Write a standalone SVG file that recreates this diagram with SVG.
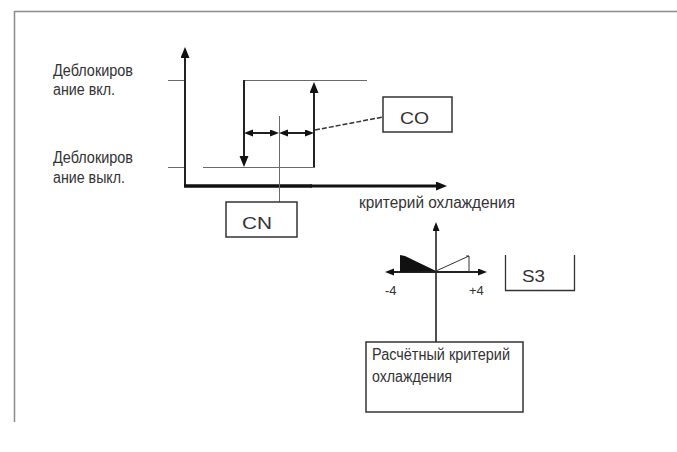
<svg xmlns="http://www.w3.org/2000/svg" width="677" height="452" viewBox="0 0 677 452">
<style>
.t{font-family:"Liberation Sans Narrow","Liberation Sans",Arial,sans-serif;fill:#333}
.thin{stroke:#6a6a6a;stroke-width:1;fill:none}
.dark{stroke:#222;stroke-width:2;fill:none}
.box{fill:#fff;stroke:#333;stroke-width:1.5}
</style>
<defs>
<marker id="ah" markerUnits="userSpaceOnUse" markerWidth="12" markerHeight="10" refX="3" refY="4.5" orient="auto-start-reverse"><path d="M0,0 L11,4.5 L0,9 z" fill="#111"/></marker>
<marker id="sa" markerUnits="userSpaceOnUse" markerWidth="10" markerHeight="8" refX="2" refY="3.5" orient="auto-start-reverse"><path d="M0,0 L9,3.5 L0,7 z" fill="#111"/></marker>
</defs>
<rect width="677" height="452" fill="#fff"/>
<g id="frame" fill="none" stroke="#8c8c8c" stroke-width="1.5">
<path d="M14.5,422 V11.5 H677"/>
</g>
<g id="labels-left">
<text class="t" x="53" y="76" font-size="16" textLength="80" lengthAdjust="spacingAndGlyphs">Деблокиров</text>
<text class="t" x="53" y="95" font-size="16" textLength="62" lengthAdjust="spacingAndGlyphs">ание вкл.</text>
<text class="t" x="53" y="163" font-size="16" textLength="80" lengthAdjust="spacingAndGlyphs">Деблокиров</text>
<text class="t" x="53" y="183" font-size="16" textLength="72" lengthAdjust="spacingAndGlyphs">ание выкл.</text>
</g>
<g id="connectors">
<line class="thin" x1="168" y1="80.5" x2="185" y2="80.5"/>
<line class="thin" x1="168" y1="167.5" x2="185" y2="167.5"/>
<line class="thin" x1="244" y1="80.5" x2="367" y2="80.5"/>
<line class="thin" x1="203" y1="167.5" x2="315" y2="167.5"/>
<line class="dark" x1="185" y1="187" x2="185" y2="55" marker-end="url(#ah)"/>
<line x1="184" y1="186" x2="312" y2="186" stroke="#111" stroke-width="3.5"/>
<line x1="310" y1="186" x2="439" y2="186" stroke="#111" stroke-width="2.8" marker-end="url(#ah)"/>
<line class="dark" x1="244" y1="80" x2="244" y2="159" marker-end="url(#ah)"/>
<line class="dark" x1="314" y1="167" x2="314" y2="90" marker-end="url(#ah)"/>
<line class="dark" x1="251" y1="133" x2="272" y2="133" marker-start="url(#sa)" marker-end="url(#sa)"/>
<line class="dark" x1="286" y1="133" x2="307" y2="133" marker-start="url(#sa)" marker-end="url(#sa)"/>
<line class="thin" x1="279.5" y1="116" x2="279.5" y2="202"/>
<line x1="315" y1="130" x2="383" y2="117" stroke="#333" stroke-width="1.5" stroke-dasharray="5,2"/>
<line x1="436" y1="342" x2="436" y2="229" stroke="#222" stroke-width="1.6" marker-end="url(#sa)"/>
<line x1="392" y1="272" x2="480" y2="272" stroke="#222" stroke-width="1.8" marker-start="url(#sa)" marker-end="url(#sa)"/>
<polygon points="400,255 405,256 436,271 400,272" fill="#111"/>
<path d="M436,271 L469,256 M466,256 H469 V272" stroke="#333" stroke-width="1" fill="none"/>
<path d="M505.5,255 V290.5 H574.5 V255" stroke="#333" stroke-width="1.3" fill="none"/>
</g>
<g id="node-CO">
<rect class="box" x="383" y="97" width="69" height="35"/>
<text class="t" x="400" y="124" font-size="17" textLength="29" lengthAdjust="spacingAndGlyphs" fill="#444">CO</text>
</g>
<g id="node-CN">
<rect class="box" x="226" y="202" width="71" height="35" stroke="#555"/>
<text class="t" x="242" y="229" font-size="17" textLength="30" lengthAdjust="spacingAndGlyphs" fill="#444">CN</text>
</g>
<g id="axis-label">
<text class="t" x="359" y="208" font-size="16" textLength="156" lengthAdjust="spacingAndGlyphs">критерий охлаждения</text>
</g>
<g id="node-S3">
<text class="t" x="522" y="282" font-size="16" textLength="23" lengthAdjust="spacingAndGlyphs" fill="#444">S3</text>
</g>
<g id="scale-labels">
<text class="t" x="385" y="295" font-size="13">-4</text>
<text class="t" x="469" y="295" font-size="13">+4</text>
</g>
<g id="node-calc">
<rect class="box" x="366" y="342" width="157" height="70"/>
<text class="t" x="372" y="360" font-size="16" textLength="138" lengthAdjust="spacingAndGlyphs">Расчётный критерий</text>
<text class="t" x="372" y="382" font-size="16" textLength="80" lengthAdjust="spacingAndGlyphs">охлаждения</text>
</g>
</svg>
